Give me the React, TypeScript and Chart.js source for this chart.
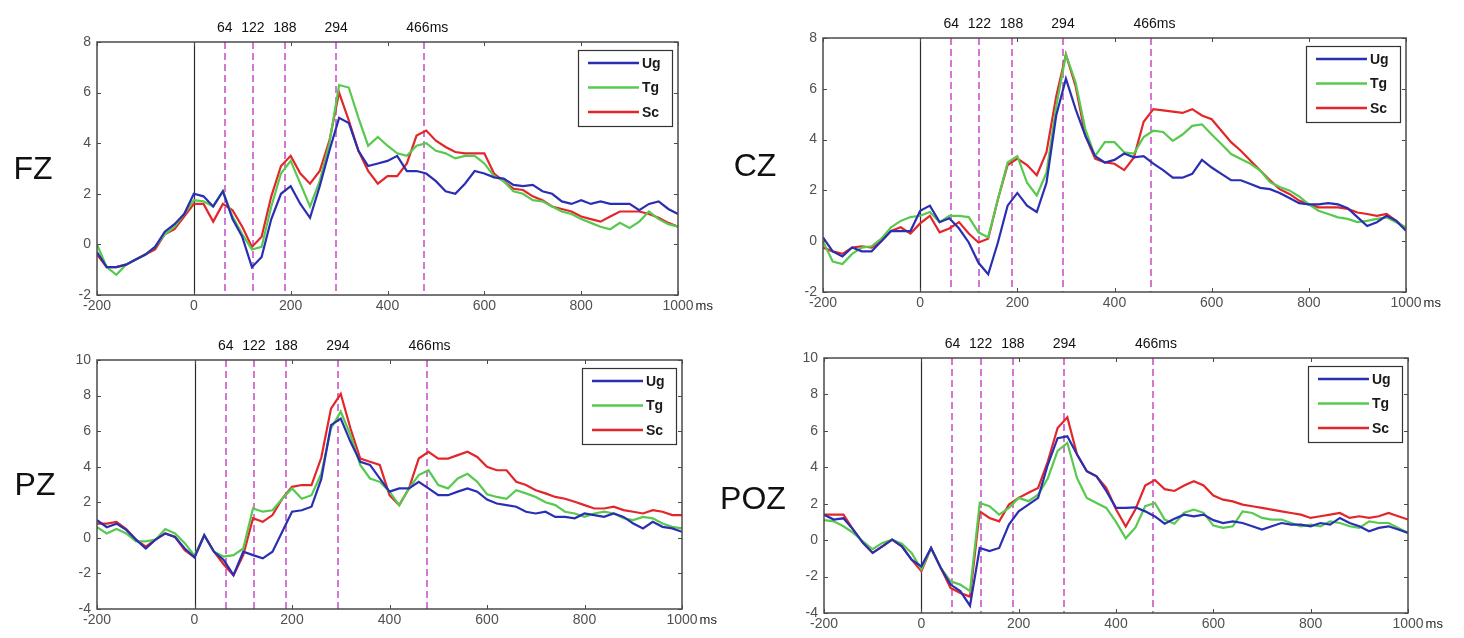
import React, { useEffect, useRef } from "react";
import { Chart, registerables } from "chart.js";

Chart.register(...registerables);

// ---------- data ----------
const timesMs = [
  -200, -180, -160, -140, -120, -100, -80, -60, -40, -20,
  0, 20, 40, 60, 80, 100, 120, 140, 160, 180,
  200, 220, 240, 260, 280, 300, 320, 340, 360, 380,
  400, 420, 440, 460, 480, 500, 520, 540, 560, 580,
  600, 620, 640, 660, 680, 700, 720, 740, 760, 780,
  800, 820, 840, 860, 880, 900, 920, 940, 960, 980,
  1000,
];

const fzUg = [
  -0.3, -0.9, -0.9, -0.8, -0.6, -0.4, -0.1, 0.5, 0.8, 1.2,
  2.0, 1.9, 1.5, 2.1, 1.0, 0.3, -0.9, -0.5, 1.0, 2.0,
  2.3, 1.6, 1.05, 2.3, 3.7, 5.0, 4.8, 3.7, 3.1, 3.2,
  3.3, 3.5, 2.9, 2.9, 2.8, 2.5, 2.1, 2.0, 2.4, 2.9,
  2.8, 2.65, 2.6, 2.35, 2.3, 2.35, 2.1, 2.0, 1.7, 1.6,
  1.75, 1.6, 1.7, 1.6, 1.6, 1.6, 1.35, 1.6, 1.7, 1.4,
  1.2,
];
const fzTg = [
  0.0, -0.9, -1.2, -0.8, -0.6, -0.4, -0.1, 0.4, 0.7, 1.2,
  1.75, 1.7, 1.5, 2.1, 1.1, 0.4, -0.2, -0.1, 1.5, 2.8,
  3.3, 2.4, 1.5, 2.5, 4.0, 6.3, 6.2, 5.0, 3.9, 4.25,
  3.9, 3.6, 3.5, 3.9, 4.0, 3.7, 3.6, 3.4, 3.5, 3.5,
  3.2, 2.7, 2.5, 2.1, 2.0, 1.75, 1.7, 1.5, 1.3, 1.2,
  1.0, 0.85, 0.7, 0.6, 0.85, 0.65, 0.9, 1.3, 1.0, 0.8,
  0.7,
];
const fzSc = [
  -0.4, -0.9, -0.9, -0.8, -0.6, -0.4, -0.2, 0.4, 0.6, 1.1,
  1.6, 1.6, 0.9, 1.6, 1.35, 0.7, -0.1, 0.3, 1.9, 3.1,
  3.5, 2.8, 2.4, 2.9, 4.1, 6.0, 4.9, 3.7, 2.9, 2.4,
  2.7, 2.7, 3.2, 4.3, 4.5, 4.1, 3.85, 3.65, 3.6, 3.6,
  3.6, 2.8, 2.5, 2.2, 2.15, 1.9, 1.75, 1.5, 1.4, 1.3,
  1.1, 1.0, 0.9, 1.1, 1.3, 1.3, 1.3, 1.2, 1.05, 0.85,
  0.7,
];

const czUg = [
  0.15, -0.4, -0.6, -0.25, -0.4, -0.4, 0.0, 0.4, 0.4, 0.4,
  1.2, 1.4, 0.75, 0.9, 0.5, -0.05, -0.85, -1.3, -0.05, 1.4,
  1.9, 1.4, 1.15, 2.3, 4.95, 6.4, 5.2, 4.15, 3.35, 3.1,
  3.2, 3.45, 3.3, 3.35, 3.05, 2.8, 2.5, 2.5, 2.65, 3.2,
  2.9, 2.65, 2.4, 2.4, 2.25, 2.1, 2.05, 1.9, 1.7, 1.5,
  1.45, 1.45, 1.5, 1.45, 1.3, 0.95, 0.6, 0.75, 1.0, 0.8,
  0.41,
];
const czTg = [
  0.0, -0.8, -0.9, -0.5, -0.25, -0.2, 0.1, 0.55, 0.8, 0.95,
  1.0, 1.15, 0.75, 1.0, 1.0, 0.95, 0.35, 0.15, 1.65, 3.1,
  3.35, 2.3, 1.8, 2.7, 5.3, 7.35, 6.25, 4.4, 3.35, 3.9,
  3.9, 3.5, 3.45, 4.1, 4.35, 4.3, 3.95, 4.2, 4.54, 4.6,
  4.2, 3.83, 3.43, 3.24, 3.05, 2.78, 2.33, 2.13, 2.0, 1.76,
  1.45, 1.2, 1.07, 0.94, 0.88, 0.75, 0.8, 0.88, 0.94, 0.75,
  0.55,
];
const czSc = [
  -0.25, -0.4, -0.5, -0.25, -0.2, -0.25, 0.0, 0.4, 0.55, 0.3,
  0.7, 1.0, 0.35, 0.5, 0.75, 0.3, -0.05, 0.1, 1.65, 3.0,
  3.25, 3.0, 2.6, 3.5, 5.7, 7.35, 6.1, 4.15, 3.25, 3.1,
  3.05, 2.8, 3.3, 4.7, 5.2, 5.15, 5.1, 5.05, 5.2, 4.95,
  4.8, 4.35, 3.9, 3.56, 3.17, 2.78, 2.4, 2.05, 1.86, 1.6,
  1.45, 1.33, 1.33, 1.33, 1.27, 1.13, 1.07, 1.0, 1.07, 0.8,
  0.47,
];

const pzUg = [
  1.0, 0.6, 0.8, 0.45, -0.1, -0.6, -0.1, 0.25, 0.05, -0.6,
  -1.1, 0.15, -0.78, -1.25, -2.1, -0.78, -0.97, -1.15, -0.78, 0.34,
  1.47, 1.55, 1.75, 3.3, 6.34, 6.7, 5.4, 4.28, 4.1, 3.34,
  2.6, 2.78, 2.78, 3.15, 2.78, 2.4, 2.4, 2.6, 2.78, 2.6,
  2.15, 1.93, 1.84, 1.75, 1.47, 1.37, 1.47, 1.18, 1.18, 1.1,
  1.37, 1.28, 1.18, 1.37, 1.18, 0.81, 0.53, 0.9, 0.62, 0.53,
  0.34,
];
const pzTg = [
  0.6, 0.25, 0.5, 0.25, -0.2, -0.2, -0.1, 0.5, 0.25, -0.3,
  -1.0, 0.15, -0.78, -1.06, -0.97, -0.6, 1.65, 1.47, 1.55, 2.2,
  2.78, 2.2, 2.4, 3.6, 6.15, 7.1, 5.77, 4.1, 3.34, 3.15,
  2.6, 1.84, 2.78, 3.53, 3.8, 2.97, 2.78, 3.34, 3.6, 3.15,
  2.45, 2.3, 2.2, 2.68, 2.5, 2.3, 2.0, 1.84, 1.47, 1.37,
  1.18, 1.37, 1.47, 1.37, 1.1, 1.0, 1.18, 1.1, 0.81, 0.62,
  0.53,
];
const pzSc = [
  0.8, 0.8, 0.9, 0.5, -0.1, -0.5, -0.1, 0.25, 0.05, -0.7,
  -1.1, 0.15, -0.78, -1.5, -2.1, -0.97, 1.1, 0.9, 1.28, 2.2,
  2.87, 2.97, 2.97, 4.5, 7.27, 8.1, 6.15, 4.46, 4.28, 4.1,
  2.4, 1.84, 2.78, 4.46, 4.84, 4.46, 4.46, 4.65, 4.84, 4.55,
  4.0, 3.8, 3.8, 3.15, 2.97, 2.68, 2.5, 2.3, 2.2, 2.03,
  1.84, 1.65, 1.65, 1.75, 1.56, 1.47, 1.37, 1.56, 1.47, 1.28,
  1.28,
];

const pozUg = [
  1.4, 1.13, 1.2, 0.58, -0.15, -0.7, -0.34, 0.03, -0.34, -1.07,
  -1.44, -0.43, -1.53, -2.44, -2.8, -3.6, -0.43, -0.6, -0.43, 0.85,
  1.58, 1.95, 2.32, 4.15, 5.6, 5.7, 4.7, 3.78, 3.5, 2.7,
  1.77, 1.77, 1.8, 1.58, 1.3, 0.9, 1.17, 1.4, 1.31, 1.4,
  1.1, 0.94, 1.03, 0.94, 0.76, 0.58, 0.76, 0.94, 0.85, 0.85,
  0.76, 0.94, 0.85, 1.22, 0.94, 0.76, 0.49, 0.67, 0.76, 0.58,
  0.4,
];
const pozTg = [
  1.1, 1.03, 0.76, 0.4, -0.06, -0.5, -0.15, 0.03, -0.2, -0.7,
  -1.6, -0.43, -1.53, -2.26, -2.44, -2.8, 2.04, 1.86, 1.4, 1.77,
  2.32, 2.14, 2.5, 3.4, 4.9, 5.34, 3.4, 2.32, 2.04, 1.77,
  1.0, 0.1, 0.7, 1.86, 2.04, 1.13, 0.9, 1.5, 1.68, 1.5,
  0.8, 0.67, 0.76, 1.58, 1.49, 1.22, 1.13, 1.13, 0.94, 0.76,
  0.85, 0.76, 1.03, 0.94, 0.76, 0.67, 1.03, 0.94, 0.94, 0.67,
  0.4,
];
const pozSc = [
  1.4, 1.4, 1.4, 0.58, -0.15, -0.7, -0.34, 0.03, -0.34, -1.07,
  -1.7, -0.43, -1.53, -2.63, -2.9, -3.1, 1.58, 1.22, 1.03, 1.95,
  2.32, 2.6, 2.87, 4.33, 6.16, 6.75, 4.7, 3.78, 3.5, 2.87,
  1.7, 0.75, 1.7, 3.0, 3.3, 2.8, 2.7, 3.0, 3.23, 3.0,
  2.45, 2.22, 2.13, 1.95, 1.86, 1.77, 1.68, 1.58, 1.49, 1.4,
  1.22, 1.31, 1.4, 1.49, 1.22, 1.31, 1.22, 1.31, 1.49, 1.31,
  1.13,
];

const seriesNames = ["Ug", "Tg", "Sc"];
const seriesColors = ["#2a2fb2", "#58c94f", "#e3262a"];
const markerMs = [64, 122, 188, 294, 476];
const markerLabels = ["64", "122", "188", "294", "466ms"];
const xMin = -200;
const xMax = 1000;
const xStep = 200;
const yStep = 2;

// ---------- layout ----------
const FONT = "'Liberation Sans', Arial, Helvetica, sans-serif";
const Y_W = 40;
const X_H = 20;

type PanelDef = {
  name: string;
  series: number[][];
  yMin: number;
  yMax: number;
  canvas: { left: number; top: number; w: number; h: number };
  area: { l: number; t: number; r: number; b: number };
  label: { x: number; y: number };
};

const panels: PanelDef[] = [
  {
    name: "FZ",
    series: [fzUg, fzTg, fzSc],
    yMin: -2,
    yMax: 8,
    canvas: { left: 0, top: 0, w: 732, h: 319 },
    area: { l: 97, t: 42, r: 678, b: 295 },
    label: { x: 33, y: 170 },
  },
  {
    name: "CZ",
    series: [czUg, czTg, czSc],
    yMin: -2,
    yMax: 8,
    canvas: { left: 700, top: 0, w: 764, h: 319 },
    area: { l: 823, t: 38, r: 1406, b: 292 },
    label: { x: 755, y: 167 },
  },
  {
    name: "PZ",
    series: [pzUg, pzTg, pzSc],
    yMin: -4,
    yMax: 10,
    canvas: { left: 0, top: 319, w: 732, h: 319 },
    area: { l: 97, t: 360, r: 682, b: 609 },
    label: { x: 35, y: 486 },
  },
  {
    name: "POZ",
    series: [pozUg, pozTg, pozSc],
    yMin: -4,
    yMax: 10,
    canvas: { left: 700, top: 319, w: 764, h: 319 },
    area: { l: 824, t: 358, r: 1408, b: 613 },
    label: { x: 753, y: 500 },
  },
];

function makeOverlay(p: PanelDef) {
  return {
    id: "eegOverlay",
    beforeDatasetsDraw(chart: any) {
      const { ctx, chartArea: a } = chart;
      const xs = chart.scales.x;
      ctx.save();
      const z = Math.round(xs.getPixelForValue(0)) + 0.5;
      ctx.strokeStyle = "#2b2b2b";
      ctx.lineWidth = 1.2;
      ctx.beginPath();
      ctx.moveTo(z, a.top);
      ctx.lineTo(z, a.bottom);
      ctx.stroke();
      ctx.strokeStyle = "#d377d3";
      ctx.lineWidth = 2;
      ctx.setLineDash([7, 4]);
      for (const m of markerMs) {
        const px = Math.round(xs.getPixelForValue(m));
        ctx.beginPath();
        ctx.moveTo(px, a.top);
        ctx.lineTo(px, a.bottom);
        ctx.stroke();
      }
      ctx.restore();
    },
    afterDraw(chart: any) {
      const { ctx, chartArea: a } = chart;
      const xs = chart.scales.x;
      const ys = chart.scales.y;
      ctx.save();
      // axes box
      ctx.strokeStyle = "#4a4a4a";
      ctx.lineWidth = 1.5;
      ctx.strokeRect(a.left, a.top, a.right - a.left, a.bottom - a.top);
      // inner ticks
      ctx.lineWidth = 1;
      const tl = 4;
      ctx.beginPath();
      for (let v = xMin; v <= xMax; v += xStep) {
        const px = Math.round(xs.getPixelForValue(v)) + 0.5;
        ctx.moveTo(px, a.bottom);
        ctx.lineTo(px, a.bottom - tl);
        ctx.moveTo(px, a.top);
        ctx.lineTo(px, a.top + tl);
      }
      for (let v = p.yMin; v <= p.yMax; v += yStep) {
        const py = Math.round(ys.getPixelForValue(v)) + 0.5;
        ctx.moveTo(a.left, py);
        ctx.lineTo(a.left + tl, py);
        ctx.moveTo(a.right, py);
        ctx.lineTo(a.right - tl, py);
      }
      ctx.stroke();

      // top marker labels
      ctx.fillStyle = "#111";
      ctx.font = `14px ${FONT}`;
      ctx.textAlign = "center";
      ctx.textBaseline = "middle";
      markerMs.forEach((m, i) => {
        ctx.fillText(markerLabels[i], xs.getPixelForValue(m) + (i === 4 ? 3 : 0), a.top - 14);
      });

      // "ms" unit after the last tick
      ctx.font = `14px ${FONT}`;
      const w1000 = ctx.measureText(String(xMax)).width;
      ctx.textAlign = "left";
      ctx.fillStyle = "#222";
      ctx.font = `13px ${FONT}`;
      ctx.fillText("ms", xs.getPixelForValue(xMax) + w1000 / 2 + 2, a.bottom + 11);

      // legend
      const bw = 94;
      const bh = 76;
      const bx = a.right - 6 - bw;
      const by = a.top + 8;
      ctx.fillStyle = "#fff";
      ctx.fillRect(bx, by, bw, bh);
      ctx.strokeStyle = "#333";
      ctx.lineWidth = 1.2;
      ctx.strokeRect(bx + 0.5, by + 0.5, bw, bh);
      ctx.font = `bold 14px ${FONT}`;
      ctx.textBaseline = "middle";
      seriesNames.forEach((n, i) => {
        const ry = by + 13 + i * 24.5;
        ctx.strokeStyle = seriesColors[i];
        ctx.lineWidth = 2.5;
        ctx.beginPath();
        ctx.moveTo(bx + 10, ry);
        ctx.lineTo(bx + 61, ry);
        ctx.stroke();
        ctx.fillStyle = "#1a1a1a";
        ctx.textAlign = "left";
        ctx.fillText(n, bx + 64, ry + 1);
      });

      // channel label
      ctx.fillStyle = "#111";
      ctx.font = `32px ${FONT}`;
      ctx.textAlign = "center";
      ctx.textBaseline = "middle";
      ctx.fillText(p.name, p.label.x - p.canvas.left, p.label.y - p.canvas.top);
      ctx.restore();
    },
  };
}

function Panel({ p }: { p: PanelDef }) {
  const ref = useRef<HTMLCanvasElement | null>(null);
  useEffect(() => {
    const canvas = ref.current;
    if (!canvas) return;
    const pad = {
      left: p.area.l - p.canvas.left - Y_W,
      top: p.area.t - p.canvas.top,
      right: p.canvas.left + p.canvas.w - p.area.r,
      bottom: p.canvas.top + p.canvas.h - p.area.b - X_H,
    };
    const chart = new Chart(canvas, {
      type: "line",
      data: {
        datasets: p.series.map((vals, i) => ({
          label: seriesNames[i],
          data: timesMs.map((t, k) => ({ x: t, y: vals[k] })),
          borderColor: seriesColors[i],
          backgroundColor: seriesColors[i],
          borderWidth: 2.2,
          pointRadius: 0,
          tension: 0,
          fill: false,
        })),
      },
      options: {
        responsive: false,
        animation: false,
        devicePixelRatio: 1,
        layout: { padding: pad },
        plugins: {
          legend: { display: false },
          tooltip: { enabled: false },
          title: { display: false },
        },
        scales: {
          x: {
            type: "linear",
            min: xMin,
            max: xMax,
            grid: { display: false, drawTicks: false },
            border: { display: false },
            ticks: {
              stepSize: xStep,
              autoSkip: false,
              maxRotation: 0,
              padding: 3,
              color: "#505050",
              font: { family: FONT, size: 14 },
              callback: (v: any) => String(v),
            },
            afterFit: (s: any) => {
              s.height = X_H;
            },
          },
          y: {
            type: "linear",
            min: p.yMin,
            max: p.yMax,
            grid: { display: false, drawTicks: false },
            border: { display: false },
            ticks: {
              stepSize: yStep,
              padding: 6,
              color: "#505050",
              font: { family: FONT, size: 14 },
              callback: (v: any) => String(v),
            },
            afterFit: (s: any) => {
              s.width = Y_W;
            },
          },
        },
      },
      plugins: [makeOverlay(p)],
    } as any);
    return () => chart.destroy();
  }, [p]);
  return (
    <canvas
      ref={ref}
      width={p.canvas.w}
      height={p.canvas.h}
      style={{
        position: "absolute",
        left: p.canvas.left,
        top: p.canvas.top,
        width: p.canvas.w,
        height: p.canvas.h,
      }}
    />
  );
}

export default function App() {
  return (
    <div
      style={{
        position: "absolute",
        left: 0,
        top: 0,
        width: 1464,
        height: 638,
        background: "#fff",
        overflow: "hidden",
      }}
    >
      {panels.map((p) => (
        <Panel key={p.name} p={p} />
      ))}
    </div>
  );
}
